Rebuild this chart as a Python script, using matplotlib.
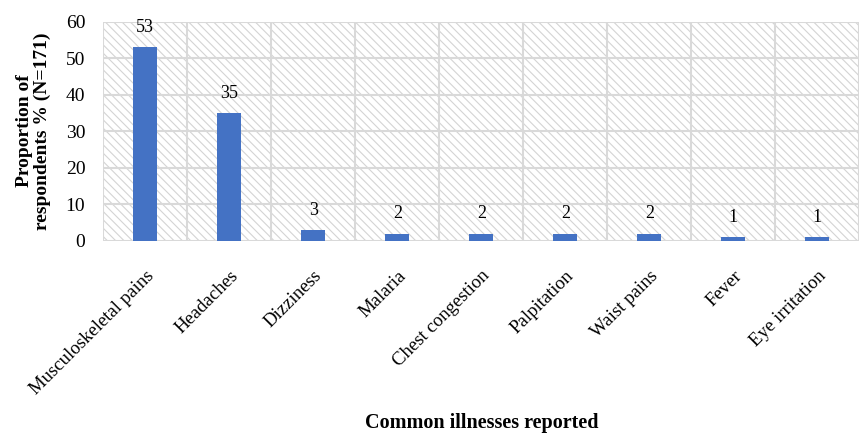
import matplotlib
matplotlib.use("Agg")
import matplotlib.pyplot as plt
from matplotlib.patches import Rectangle

illnesses = ['Musculoskeletal pains', 'Headaches', 'Dizziness', 'Malaria',
             'Chest congestion', 'Palpitation', 'Waist pains', 'Fever',
             'Eye irritation']
percent = [53, 35, 3, 2, 2, 2, 2, 1, 1]
y_ticks = [0, 10, 20, 30, 40, 50, 60]

plt.rcParams['font.family'] = ['Liberation Serif', 'DejaVu Serif']
plt.rcParams['hatch.color'] = '#d4d4d4'
plt.rcParams['hatch.linewidth'] = 0.8

fig = plt.figure(figsize=(8.61, 4.34), dpi=100)
ax = fig.add_axes([0.12, 0.445, 0.878, 0.505])

n = len(illnesses)
ax.set_xlim(-0.5, n - 0.5)
ax.set_ylim(0, 60)

# hatched plot background
ax.add_patch(Rectangle((0, 0), 1, 1, transform=ax.transAxes, facecolor='white',
                       edgecolor='#d4d4d4', hatch='\\\\\\\\', linewidth=0, zorder=0))

# grid: horizontal at ticks, vertical between categories
for y in y_ticks:
    ax.axhline(y, color='#d9d9d9', linewidth=1.5, zorder=1)
for i in range(n + 1):
    ax.axvline(i - 0.5, color='#d9d9d9', linewidth=1.5, zorder=1)

bars = ax.bar(range(n), percent, width=0.29, color='#4472C4', zorder=2)
for rect, v in zip(bars, percent):
    ax.annotate(str(v), (rect.get_x() + rect.get_width() / 2, v),
                xytext=(0, 8), textcoords='offset points',
                ha='center', va='bottom', fontsize=13)

for side in ax.spines.values():
    side.set_visible(False)

ax.set_yticks(y_ticks)
ax.set_xticks(range(n))
ax.set_xticklabels(illnesses, rotation=45, ha='right', va='top',
                   rotation_mode='anchor', fontsize=13.5)
ax.tick_params(axis='both', length=0)
ax.tick_params(axis='y', labelsize=14, pad=13)
ax.tick_params(axis='x', pad=19)

fig.text(0.039, 0.698, 'Proportion of\nrespondents % (N=171)', rotation=90,
         ha='center', va='center', fontsize=14, fontweight='bold',
         linespacing=1.0)
fig.text(0.559, 0.025, 'Common illnesses reported', ha='center', va='center',
         fontsize=14.5, fontweight='bold')

fig.savefig('out.png', dpi=100)
